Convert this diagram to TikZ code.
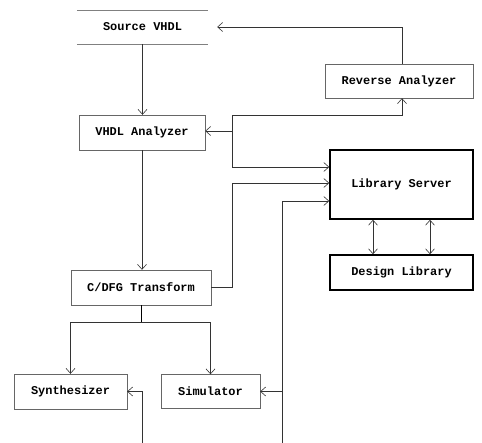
\documentclass[tikz,border=0pt]{standalone}
\usepackage{fontspec}
\setmainfont{Liberation Mono}
\usetikzlibrary{arrows.meta}

\begin{document}
\begin{tikzpicture}[x=1bp,y=-1bp]
\tikzstyle{box}=[draw=black!60, rectangle, inner sep=0pt, font=\bfseries\fontsize{12}{14}\selectfont]
\tikzstyle{heavy}=[box, draw=black, line width=1.6pt]
\tikzstyle{line}=[draw=black!80, line width=.6pt, -{Straight Barb[length=5pt,width=9pt]}]
\tikzstyle{dline}=[line, {Straight Barb[length=5pt,width=9pt]}-{Straight Barb[length=5pt,width=9pt]}]

\useasboundingbox (0,0) rectangle (482,443);

\node (src) at (142.5,27) [box, draw=none, minimum width=131bp, minimum height=34bp] {Source VHDL};
\draw[black!50] (src.north west) -- (src.north east) (src.south west) -- (src.south east);

\node (rev) at (399,81) [box, minimum width=148bp, minimum height=34bp] {Reverse Analyzer};
\node (ana) at (142,132.5) [box, minimum width=126bp, minimum height=35bp] {VHDL Analyzer};
\node (lib) at (401.5,184.5) [heavy, minimum width=143bp, minimum height=69bp] {Library Server};
\node (dlib) at (401.5,272.5) [heavy, minimum width=143bp, minimum height=35bp] {Design Library};
\node (cdfg) at (141,287.5) [box, minimum width=140bp, minimum height=35bp] {C/DFG Transform};
\node (syn) at (70.5,391.5) [box, minimum width=113bp, minimum height=35bp] {Synthesizer};
\node (sim) at (210.5,391.5) [box, minimum width=99bp, minimum height=34bp] {Simulator};

\coordinate (busA) at (232,131);
\coordinate (busTop) at (232,115);
\coordinate (revIn) at (402,115);
\coordinate (busC) at (232,183);
\coordinate (split) at (141,322);
\coordinate (feedS) at (282,443);
\coordinate (simJ) at (282,391.5);
\coordinate (feedY) at (142,443);

\draw[line] (src.south) -- (src.south |- ana.north);
\draw[line] (ana.south) -- (ana.south |- cdfg.north);
\draw[line, shorten >=9bp] (rev.north -| revIn) |- (src.east);

\draw[line] (busA) -- (busA -| ana.east);
\draw[line] (busA) |- ([yshift=17.5bp]lib.west);
\draw[line] (busA) -- (busTop) -- (revIn) -- (revIn |- rev.south);

\draw[line] (cdfg.east) -| (busC) -- (busC -| lib.west);
\draw (cdfg.south) -- (split);
\draw[line] (split) -| (syn.north);
\draw[line] (split) -| (sim.north);

\draw[line] (feedS) |- ([yshift=-16.5bp]lib.west);
\draw[line] (simJ) -- (sim.east);
\draw[line] (feedY) |- (syn.east);

\draw[dline] ([xshift=-28.5bp]lib.south) -- ([xshift=-28.5bp]dlib.north);
\draw[dline] ([xshift=28.5bp]lib.south) -- ([xshift=28.5bp]dlib.north);

\end{tikzpicture}
\end{document}
